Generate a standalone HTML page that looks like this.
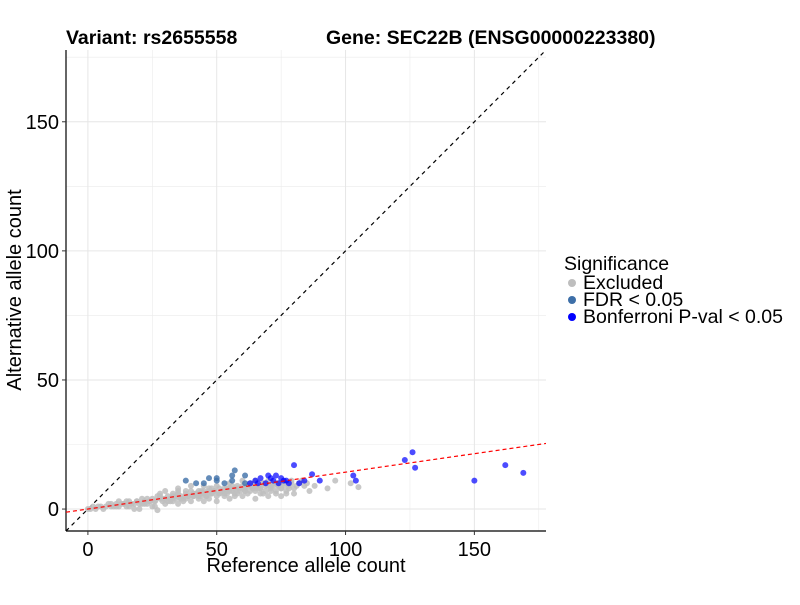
<!DOCTYPE html>
<html><head><meta charset="utf-8"><style>
body{margin:0;background:#fff;}
svg text{font-family:"Liberation Sans",Arial,sans-serif;}
</style></head><body>
<svg id="chart" width="800" height="600" xmlns="http://www.w3.org/2000/svg">
<rect width="800" height="600" fill="#fff"/>
<text x="66" y="44" font-size="19.5" font-weight="bold">Variant: rs2655558</text>
<text x="326" y="44" font-size="19.5" font-weight="bold">Gene: SEC22B (ENSG00000223380)</text>
<g id="grid"></g>
<g id="refs"></g>
<g id="pts"></g>
<g id="axes"></g>
<text x="306" y="572" font-size="20" text-anchor="middle">Reference allele count</text>
<text transform="translate(21,290) rotate(-90)" font-size="20" text-anchor="middle">Alternative allele count</text>
<g>
<text x="564" y="270" font-size="19.5">Significance</text>
<circle cx="572" cy="283" r="4" fill="#bebebe"/>
<text x="583" y="289" font-size="19.5">Excluded</text>
<circle cx="572" cy="300" r="4" fill="#3d6fa8"/>
<text x="583" y="306" font-size="19.5">FDR &lt; 0.05</text>
<circle cx="572" cy="317" r="4" fill="#0000ff"/>
<text x="583" y="323" font-size="19.5">Bonferroni P-val &lt; 0.05</text>
</g>
</svg>
<script>
const xTicks=[0,50,100,150];
const yTicks=[0,50,100,150];
const minorTicks=[25,75,125,175];
const regSlope=0.143;
const regIntercept=0;
const greyX=[0,1,2,3,4,5,6,7,8,9,10,11,12,13,14,15,16,17,18,19,20,21,22,23,24,25,26,27,28,29,30,31,32,33,34,35,36,37,38,39,40,41,42,43,44,45,46,47,48,49,50,51,52,53,54,55,56,57,58,59,60,61,62,63,64,65,66,67,68,69,70,71,72,73,74,75,76,77,78,79,80,82,84,86,88,93,96,105,102,20,25,30,35,40,45,50,55,60,65,70,75,80,30,40,45,55,60,50,35,28,65,70,26,15,12,18,27,33,38,43,48,53,58,63,68,73,78,42,47,52,57,62,67,72,36,44,54,64,74,22,32,
9,14,19,24,29,34,39,44,49,54,59,64,69,74,79,83,11,16,21,26,31,36,41,46,51,56,61,66,71,76,81,23,28,33,38,43,48,53,58,63,68,73,37,47,57,67,77,41,51,61,71,35,45,55,65,75,85];
const greyY=[0,0,1,0,1,1,0,1,2,1,1,2,1,2,2,1,3,2,2,3,2,4,3,2,3,4,3,5,4,3,4,5,3,5,4,6,5,4,6,5,7,5,6,4,7,6,5,8,6,7,5,8,7,6,8,7,9,6,8,7,9,8,6,10,8,7,9,8,10,7,9,8,10,6,9,8,10,7,9,11,8,10,9,7,9,8,11,8.5,10,0,1,2,2,3,3,3,4,5,4,5,5,6,7,9,9,10,11,9,8,6,11,11,1,3,3,0,-0.4,3,4,5,6,5,6,7,6,7,8,6,7,7,8,9,8,9,4,5,6,8,9,2,4,
2,2,3,3,4,5,5,6,7,7,8,9,9,10,10,11,1,1,2,3,3,4,5,5,6,7,7,8,9,9,9,4,5,6,7,7,8,8,9,9,10,10,3,4,5,6,6,6,6,7,7,7,7,8,8,8,10];
const fdrX=[38,45,47,50,53,56,57,56,61,61,50,42];
const fdrY=[11,10,12,11,10,13,15,11,13,10,12,10];
const bonX=[123,126,127,150,162,169,103,104,80,87,90,63,65,67,69,70,72,74,75,77,78,82,84,66,71,76,73];
const bonY=[19,22,16,11,17,14,13,11,17,13.5,11,10,11,12,10,13,11,10,12,11,10,10,11,10,12,11,13];
const X0=66,X1=546,Y0=531,Y1=50,DMIN=-8.5,DMAX=177.8;
function sx(v){return X0+(v-DMIN)/(DMAX-DMIN)*(X1-X0);}
function sy(v){return Y0-(v-DMIN)/(DMAX-DMIN)*(Y0-Y1);}
const NS="http://www.w3.org/2000/svg";
function mk(tag,attrs,parent){const e=document.createElementNS(NS,tag);for(const k in attrs)e.setAttribute(k,attrs[k]);parent.appendChild(e);return e;}
const grid=document.getElementById('grid');
minorTicks.forEach(t=>{
 if(sx(t)<X1){const l=mk('line',{x1:sx(t),x2:sx(t),y1:Y1,y2:Y0,stroke:'#ebebeb','stroke-width':0.6},grid);
 
 }
 if(sy(t)>Y1){const l2=mk('line',{x1:X0,x2:X1,y1:sy(t),y2:sy(t),stroke:'#ebebeb','stroke-width':0.6},grid);
 
 }
});
xTicks.forEach(t=>{
 const l=mk('line',{x1:sx(t),x2:sx(t),y1:Y1,y2:Y0,stroke:'#e6e6e6','stroke-width':1},grid);
 
 
});
yTicks.forEach(t=>{
 const l=mk('line',{x1:X0,x2:X1,y1:sy(t),y2:sy(t),stroke:'#e6e6e6','stroke-width':1},grid);
 
 
});
const refs=document.getElementById('refs');
const cp=mk('clipPath',{id:'cp'},refs);mk('rect',{x:X0,y:Y1,width:X1-X0,height:Y0-Y1},cp);
const diag=mk('line',{x1:sx(DMIN),y1:sy(DMIN),x2:sx(DMAX),y2:sy(DMAX),stroke:'#000','stroke-width':1.2,'stroke-dasharray':'4,4','clip-path':'url(#cp)'},refs);


const pts=document.getElementById('pts');
function drawSet(xs,ys,fill,op,name){
 xs.forEach((x,i)=>{
  const c=mk('circle',{cx:sx(x),cy:sy(ys[i]),r:3,fill:fill,'fill-opacity':op},pts);
  
  
 });
}
drawSet(greyX,greyY,'#bebebe',0.85,'excluded-point');
drawSet(fdrX,fdrY,'#3d6fa8',0.8,'fdr-point');
drawSet(bonX,bonY,'#0000ff',0.7,'bonferroni-point');
const reg=mk('line',{x1:sx(DMIN),y1:sy(regIntercept+regSlope*DMIN),x2:sx(DMAX),y2:sy(regIntercept+regSlope*DMAX),stroke:'#ff0000','stroke-width':1.2,'stroke-dasharray':'4,3','clip-path':'url(#cp)'},refs.parentNode);


const axes=document.getElementById('axes');
mk('line',{x1:X0,x2:X0,y1:Y1,y2:Y0,stroke:'#000','stroke-width':1.2},axes);
mk('line',{x1:X0,x2:X1,y1:Y0,y2:Y0,stroke:'#000','stroke-width':1.2},axes);
xTicks.forEach(t=>{
 mk('line',{x1:sx(t),x2:sx(t),y1:Y0,y2:Y0+4,stroke:'#333'},axes);
 const tx=mk('text',{x:sx(t),y:Y0+25,'font-size':20,'text-anchor':'middle'},axes);
 tx.textContent=t;
 
 
});
yTicks.forEach(t=>{
 mk('line',{x1:X0-4,x2:X0,y1:sy(t),y2:sy(t),stroke:'#333'},axes);
 const tx=mk('text',{x:X0-7,y:sy(t)+7,'font-size':20,'text-anchor':'end'},axes);
 tx.textContent=t;
 
 
});
</script>
</body></html>
